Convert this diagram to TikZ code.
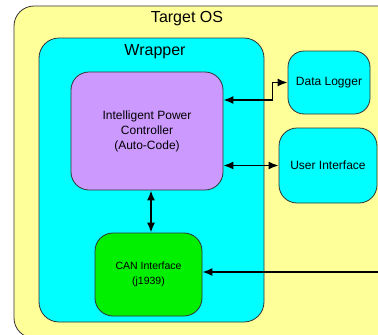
\documentclass[tikz,border=0pt]{standalone}
\usepackage{fontspec}
\setmainfont{Liberation Sans}
\usetikzlibrary{arrows.meta}
\definecolor{osyellow}{HTML}{FFFF99}
\definecolor{wrapcyan}{HTML}{00FFFF}
\definecolor{ctrlpurple}{HTML}{CC99FF}
\definecolor{cangreen}{HTML}{00F000}
\newcommand{\boxfont}{\fontsize{12}{15}\selectfont}
\newcommand{\titlefont}{\fontsize{16}{19}\selectfont}
\tikzset{
  blockbox/.style={draw=black!80, line width=0.8pt, rounded corners=18pt,
    align=center, inner sep=0pt, font=\boxfont},
  title/.style={font=\titlefont},
  link/.style={line width=1.6pt, {Latex[length=10pt,width=8pt]}-{Latex[length=10pt,width=8pt]}},
  linkin/.style={line width=1.6pt, -{Latex[length=10pt,width=8pt]}}
}

\begin{document}
\begin{tikzpicture}[x=1pt,y=-1pt]
    \useasboundingbox (0,0) rectangle (378,335);
    \clip (0,0) rectangle (378,335);
    % target os and wrapper
    \node[blockbox, fill=osyellow, minimum width=386pt, minimum height=332pt, rounded corners=20pt] (os) at (207,172) {};
    \node[title] (oslabel) at (187,19) {Target OS};
    \node[blockbox, fill=wrapcyan, minimum width=225pt, minimum height=284pt, rounded corners=20pt] (wrapper) at (151.5,180) {};
    \node[title] (wraplabel) at (155,52) {Wrapper};
    % blocks
    \node[blockbox, fill=ctrlpurple, minimum width=152pt, minimum height=118pt] (ipc) at (147,131)
        {Intelligent Power\\Controller\\(Auto-Code)};
    \node[blockbox, fill=cangreen, minimum width=107pt, minimum height=83pt,
        font=\fontsize{10.5}{15}\selectfont] (can) at (148.5,274.5) {CAN Interface\\(j1939)};
    \node[blockbox, fill=wrapcyan, minimum width=82pt, minimum height=63pt, rounded corners=16pt] (logger) at (329,82.5) {Data Logger};
    \node[blockbox, fill=wrapcyan, minimum width=98pt, minimum height=75pt] (ui) at (328,165.5) {User Interface};
    \coordinate (canbus) at (385,272);
    % links
    \draw[link] ([yshift=31pt]ipc.east) -- ++(49,0) |- (logger.west);
    \draw[link] (ui.west -| ipc.east) -- (ui.west);
    \draw[link] ([xshift=4pt]ipc.south) -- ([xshift=4pt]ipc.south |- can.north);
    \draw[linkin] (canbus) -- (canbus -| can.east);
\end{tikzpicture}
\end{document}
